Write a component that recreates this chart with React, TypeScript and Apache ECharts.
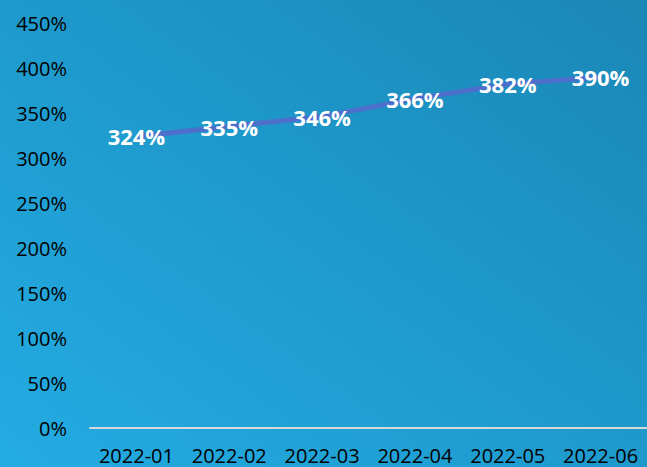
import React, { useEffect, useRef } from "react";
import * as echarts from "echarts";

const categories = ["2022-01", "2022-02", "2022-03", "2022-04", "2022-05", "2022-06"];
const values = [324, 335, 346, 366, 382, 390];

export default function App() {
  const ref = useRef<HTMLDivElement>(null);
  useEffect(() => {
    document.body.style.margin = "0";
    const chart = echarts.init(ref.current!, null, { renderer: "svg" });
    chart.setOption({
      animation: false,
      backgroundColor: new echarts.graphic.LinearGradient(0, 1, 1, 0, [
        { offset: 0, color: "#23ace3" },
        { offset: 1, color: "#1a87b6" },
      ]),
      grid: { left: 90, width: 564, top: 23, bottom: 39, containLabel: false },
      xAxis: {
        type: "category",
        data: categories,
        axisLine: { show: true, lineStyle: { color: "#d9d9d9", width: 2 } },
        axisTick: { show: false },
        axisLabel: { color: "#000", fontSize: 20, lineHeight: 20, fontFamily: "Open Sans", margin: 17, interval: 0 },
      },
      yAxis: {
        type: "value",
        min: 0,
        max: 450,
        interval: 50,
        axisLine: { show: false },
        axisTick: { show: false },
        splitLine: { show: false },
        axisLabel: { color: "#000", fontSize: 20, fontFamily: "Open Sans", margin: 23, formatter: "{value}%" },
      },
      series: [
        {
          type: "line",
          data: values,
          showSymbol: true,
          symbol: "circle",
          symbolSize: 1,
          itemStyle: { color: "rgba(0,0,0,0)" },
          lineStyle: { color: "#4c6fcb", width: 5 },
          label: {
            show: true,
            position: "inside",
            color: "#fff",
            fontWeight: "bold",
            fontSize: 22,
            fontFamily: "Open Sans",
            formatter: "{c}%",
          },
        },
      ],
    });
    return () => chart.dispose();
  }, []);
  return <div ref={ref} style={{ width: 647, height: 467 }} />;
}
